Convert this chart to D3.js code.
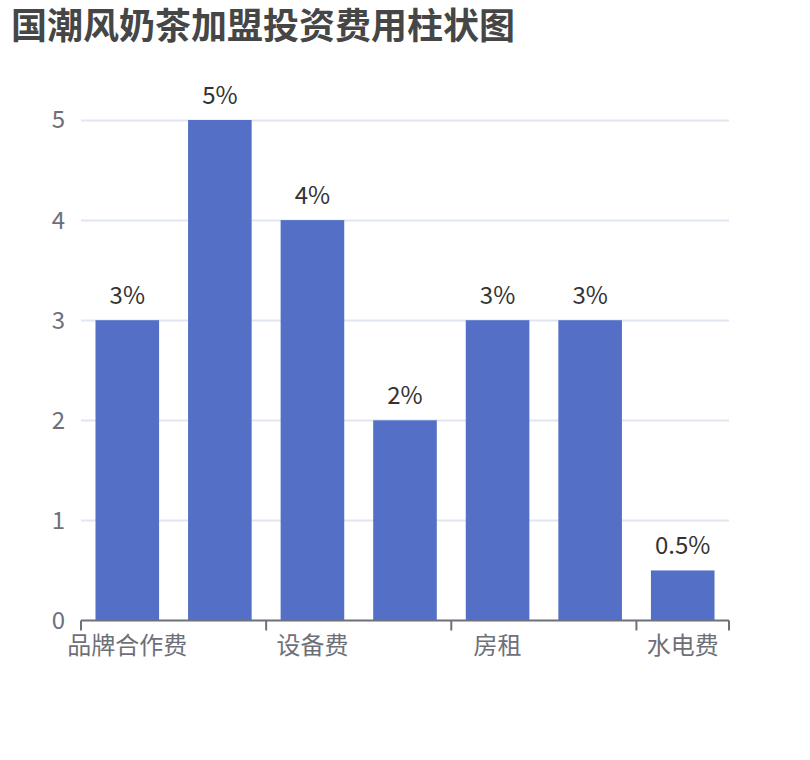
<!DOCTYPE html>
<html><head><meta charset="utf-8">
<script src="https://cdn.jsdelivr.net/npm/d3@7/dist/d3.min.js"></script>
<style>body{margin:0;background:#fff}svg{display:block}text{font-family:"Noto Sans CJK SC",sans-serif}</style>
</head><body>
<script>
const title = "国潮风奶茶加盟投资费用柱状图";
const categories = ["品牌合作费", "装修费", "设备费", "原料费", "房租", "人工费", "水电费"];
const values = [3, 5, 4, 2, 3, 3, 0.5];
const labels = ["3%", "5%", "4%", "2%", "3%", "3%", "0.5%"];
const yTicks = [0, 1, 2, 3, 4, 5];

(function () {
const W = 810, H = 760;
const svg = d3.select("body").append("svg").attr("width", W).attr("height", H);

const gLeft = 81, gRight = 729, gTop = 120, gBottom = 620.5;
const x = d3.scaleBand().domain(categories).range([gLeft, gRight]).padding(0);
const y = d3.scaleLinear().domain([0, 5]).range([gBottom, gTop]);

svg.append("text").attr("x", 11).attr("y", 39).attr("font-size", 36).attr("font-weight", "bold")
  .attr("fill", "#464646").text(title);

// grid
svg.append("g").selectAll("line").data(yTicks.filter(d => d > 0)).join("line")
  .attr("x1", gLeft).attr("x2", gRight).attr("y1", d => Math.round(y(d)) + 0.5).attr("y2", d => Math.round(y(d)) + 0.5)
  .attr("stroke", "#e0e6f1").attr("stroke-width", 2);

// y labels
svg.append("g").selectAll("text").data(yTicks).join("text")
  .attr("x", 65).attr("y", d => y(d)).attr("dy", "0.35em").attr("text-anchor", "end")
  .attr("font-size", 24).attr("fill", "#6e7079").text(d => d);

// bars
const bw = x.bandwidth() * 0.687;
svg.append("g").selectAll("rect").data(values).join("rect")
  .attr("x", (d, i) => x(categories[i]) + (x.bandwidth() - bw) / 2)
  .attr("width", bw)
  .attr("y", d => y(d)).attr("height", d => y(0) - y(d))
  .attr("fill", "#5470c6");

// value labels
svg.append("g").selectAll("text").data(values).join("text")
  .attr("x", (d, i) => x(categories[i]) + x.bandwidth() / 2)
  .attr("y", d => y(d) - 16).attr("text-anchor", "middle")
  .attr("font-size", 24).attr("fill", "#333").text((d, i) => labels[i]);

// x axis
const ax = svg.append("g");
ax.append("line").attr("x1", gLeft).attr("x2", gRight).attr("y1", gBottom).attr("y2", gBottom)
  .attr("stroke", "#6e7079").attr("stroke-width", 2);
const tickPos = [0, 2, 4, 6].map(i => x(categories[i])).concat([gRight]);
ax.selectAll("line.t").data(tickPos).join("line").attr("class", "t")
  .attr("x1", d => d).attr("x2", d => d).attr("y1", gBottom).attr("y2", gBottom + 10)
  .attr("stroke", "#6e7079").attr("stroke-width", 2);
ax.selectAll("text").data(categories.filter((c, i) => i % 2 === 0)).join("text")
  .attr("x", d => x(d) + x.bandwidth() / 2).attr("y", 646).attr("dy", "0.35em")
  .attr("text-anchor", "middle").attr("font-size", 24).attr("fill", "#6e7079").text(d => d);
})();
</script>
</body></html>
